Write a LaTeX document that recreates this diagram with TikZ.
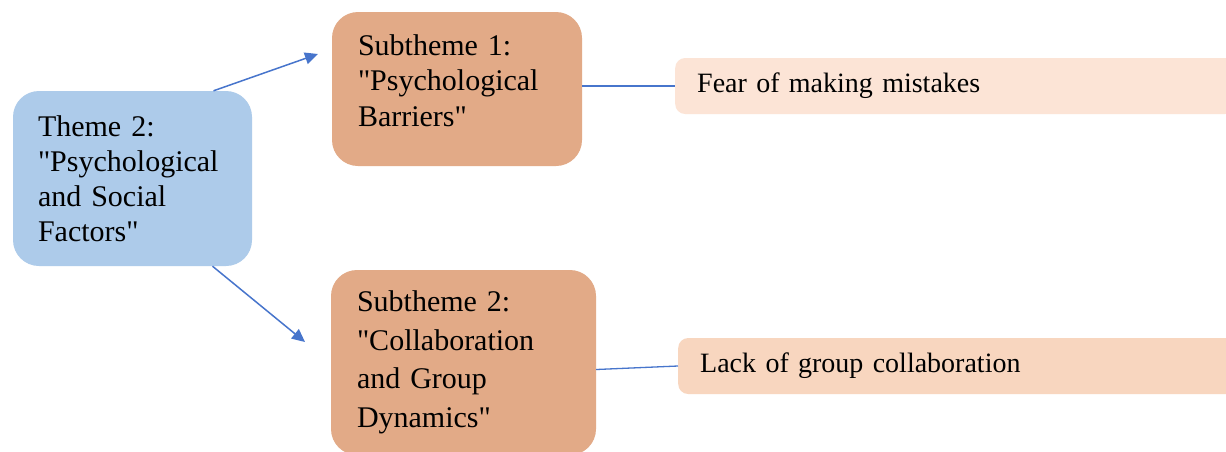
\documentclass[tikz,border=0pt]{standalone}
\usepackage{fontspec}
\setmainfont{Liberation Serif}[Ligatures=TeXOff]
\usetikzlibrary{arrows.meta}
\newcommand{\qt}{\symbol{34}}
\definecolor{themeblue}{HTML}{ADCBEA}
\definecolor{subtan}{HTML}{E2AA87}
\definecolor{peachlight}{HTML}{FCE4D6}
\definecolor{peachmid}{HTML}{F8D6BF}
\definecolor{linkblue}{HTML}{4775CC}
\tikzset{
  bigbox/.style={rounded corners=26pt, draw=none, align=left, inner xsep=25pt,
    font=\fontsize{30}{35}\selectfont},
  leafbox/.style={rounded corners=10pt, draw=none, align=left, inner xsep=22pt,
    minimum height=56pt, text width=516pt, font=\fontsize{28}{34}\selectfont},
  arr/.style={draw=linkblue, line width=1.5pt, -{Triangle[length=13pt,width=12pt]}},
  link/.style={draw=linkblue, line width=1.3pt}
}
\begin{document}
\begin{tikzpicture}[x=1pt,y=-1pt]
\useasboundingbox (0,0) rectangle (1226,451);
\fill[white] (0,0) rectangle (1226,451);

% main theme
\node[bigbox, fill=themeblue, minimum width=239pt, minimum height=175pt, text width=189pt]
  (theme) at (132.5,178.5) {Theme 2:\\\qt Psychological\\and Social\\Factors\qt};

% subthemes
\node[bigbox, fill=subtan, minimum width=250pt, minimum height=154pt, text width=198pt,
  font=\fontsize{30}{35.5}\selectfont]
  (sub1) at (457,89) {Subtheme 1:\\\qt Psychological\\Barriers\qt\rule[-17pt]{0pt}{0pt}};
\node[bigbox, fill=subtan, minimum width=265pt, minimum height=185pt, text width=213pt,
  font=\fontsize{30}{38.5}\selectfont]
  (sub2) at (463.5,362.5) {Subtheme 2:\\\qt Collaboration\\and Group\\Dynamics\qt};

% leaf items
\node[leafbox, fill=peachlight, anchor=west] (fear) at (675,86) {Fear of making mistakes};
\node[leafbox, fill=peachmid, anchor=west] (lack) at (678,366) {Lack of group collaboration};

% arrow end points
\coordinate (end1) at (318,54);
\coordinate (end2) at (305,342);

\draw[arr] ([xshift=81pt]theme.north) -- (end1);
\draw[arr] ([xshift=80pt]theme.south) -- (end2);
\draw[link] (sub1.east |- fear.west) -- (fear.west);
\draw[link] ([yshift=-7pt]sub2.east) -- (lack.west);
\end{tikzpicture}
\end{document}
